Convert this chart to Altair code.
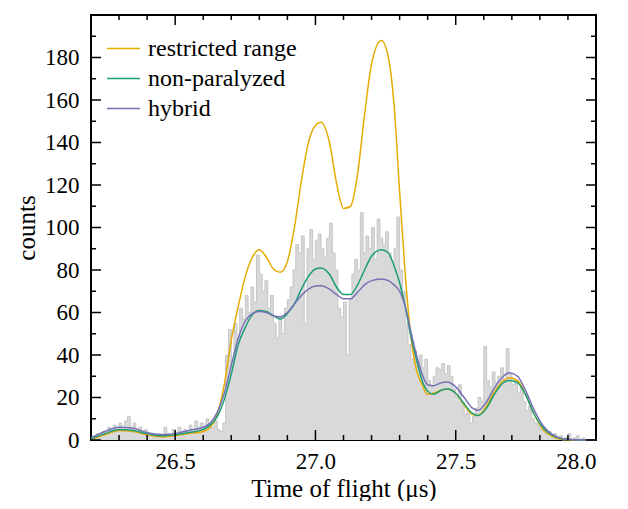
import altair as alt
import pandas as pd

# ---------------- data ----------------
bin_width = 0.01
bin_first = 26.20
counts = [
    1, 2, 3, 2, 4, 3, 6, 4, 7, 5,          # 26.20-26.29
    8, 4, 9, 11, 6, 8, 4, 6, 3, 5,         # 26.30-26.39
    2, 3, 1, 2, 3, 1, 6, 3, 2, 5,          # 26.40-26.49
    3, 6, 4, 5, 3, 7, 4, 9, 6, 8,          # 26.50-26.59
    5, 10, 7, 6, 9, 5, 4, 8, 40, 52,       # 26.60-26.69
    35, 55, 48, 62, 57, 68, 60, 72, 65, 87,  # 26.70-26.79
    78, 70, 75, 62, 68, 55, 48, 58, 50, 62,  # 26.80-26.89
    66, 72, 80, 92, 88, 96, 55, 90, 99, 85,  # 26.90-26.99
    94, 97, 90, 86, 95, 102, 88, 80, 62, 58,  # 27.00-27.09
    65, 40, 66, 78, 85, 80, 107, 88, 96, 90,  # 27.10-27.19
    100, 85, 104, 95, 92, 98, 88, 82, 90, 105,  # 27.20-27.29
    80, 70, 55, 45, 38, 42, 36, 40, 34, 38,  # 27.30-27.39
    28, 25, 30, 34, 33, 36, 31, 35, 30, 24,  # 27.40-27.49
    20, 26, 18, 12, 14, 8, 11, 15, 20, 18,   # 27.50-27.59
    44, 28, 25, 32, 27, 30, 34, 28, 43, 31,  # 27.60-27.69
    26, 28, 22, 25, 18, 14, 16, 10, 8, 7,    # 27.70-27.79
    5, 6, 3, 4, 2, 3, 1, 2, 0, 1,            # 27.80-27.89
    3, 0, 1, 2, 0, 1, 0, 0, 0, 0,            # 27.90-27.99
]

fit_x = [26.20, 26.25, 26.30, 26.35, 26.40, 26.45, 26.50, 26.55, 26.60, 26.625,
         26.65, 26.675, 26.70, 26.725, 26.75, 26.775, 26.80, 26.825, 26.85, 26.875,
         26.90, 26.925, 26.95, 26.975, 27.00, 27.02, 27.05, 27.075, 27.10, 27.125,
         27.15, 27.175, 27.20, 27.235, 27.26, 27.28, 27.30, 27.32, 27.34, 27.36,
         27.38, 27.40, 27.42, 27.45, 27.47, 27.50, 27.53, 27.56, 27.58, 27.61,
         27.64, 27.67, 27.69, 27.72, 27.75, 27.78, 27.81, 27.84, 27.87, 27.90,
         27.95, 28.00]

restricted = [0.3, 2.5, 4.5, 4.0, 2.5, 1.5, 2.0, 3.0, 4.0, 6.0,
              12, 26, 47, 63, 77, 86, 89.5, 86, 80.5, 79,
              84, 100, 122, 140, 148, 149.5, 140, 121, 109, 110,
              125, 153, 177, 188, 180, 158, 117, 78, 49, 33,
              26, 21.5, 22, 23.5, 24, 22, 16.5, 12, 11.5, 16,
              23, 28, 29.3, 28, 21, 12, 5, 2, 0.5, 0.1,
              0, 0]

non_paralyzed = [0.5, 3.0, 5.0, 4.5, 3.0, 2.0, 2.5, 3.5, 5.0, 7.0,
                 11, 19, 31, 45, 53, 59, 61, 60.5, 58.5, 57,
                 59.5, 64, 71, 77, 80.5, 81, 78, 72, 68.5, 68.5,
                 73, 80, 86.5, 89.5, 88, 82, 74, 63, 49, 38,
                 28, 23, 21.5, 23.5, 24, 22, 17, 12.5, 11.5, 15,
                 22, 27, 28, 27, 21, 12, 6, 2.5, 0.8, 0.2,
                 0, 0]

hybrid = [1.0, 4.0, 6.0, 5.5, 3.5, 2.5, 3.0, 4.5, 6.0, 8.0,
          13, 22, 35, 48, 56, 59.5, 60.5, 60, 58.5, 58,
          60, 64, 68, 71, 72.5, 72.6, 71, 68.5, 66.5, 66.5,
          69.5, 73, 75, 75.8, 75, 73, 70, 63, 51, 40,
          31, 26, 25.5, 27, 27.3, 25, 20, 15, 14, 18,
          25, 30, 31.6, 30, 23, 14, 7, 3, 1, 0.3,
          0, 0]

series_names = ["restricted range", "non-paralyzed", "hybrid"]
series_colors = ["#e6ab02", "#1b9e77", "#7570b3"]

x_major = [26.5, 27.0, 27.5, 28.0]
x_minor = [26.3, 26.4, 26.6, 26.7, 26.8, 26.9, 27.1, 27.2, 27.3, 27.4,
           27.6, 27.7, 27.8, 27.9]
y_major = [0, 20, 40, 60, 80, 100, 120, 140, 160, 180]
y_minor = [10, 30, 50, 70, 90, 110, 130, 150, 170, 190]

# ---------------- tables ----------------
hist = pd.DataFrame({
    "start": [round(bin_first + i * bin_width, 3) for i in range(len(counts))],
    "count": counts,
})
step = pd.concat([hist[["start", "count"]],
                  pd.DataFrame({"start": [28.0], "count": [counts[-1]]})])

fits = pd.concat([
    pd.DataFrame({"t": fit_x, "v": restricted, "model": series_names[0], "o": 0}),
    pd.DataFrame({"t": fit_x, "v": non_paralyzed, "model": series_names[1], "o": 1}),
    pd.DataFrame({"t": fit_x, "v": hybrid, "model": series_names[2], "o": 2}),
])

W, H = 505, 425
FONT = "Liberation Serif"

xs = alt.Scale(domain=[26.2, 28.0], nice=False, zero=False)
ys = alt.Scale(domain=[0, 200], nice=False)

x_axis = alt.Axis(values=x_major, format=".1f", title="Time of flight (μs)",
                  ticks=False, tickSize=0, domain=False, grid=False,
                  labelPadding=10, titlePadding=3)
y_axis = alt.Axis(values=y_major, title="counts",
                  ticks=False, tickSize=0, domain=False, grid=False,
                  labelPadding=12, titlePadding=5)

hist_area = alt.Chart(step).mark_area(interpolate="step-after", color="#d9d9d9",
                                      opacity=1).encode(
    x=alt.X("start:Q", scale=xs, axis=x_axis),
    y=alt.Y("count:Q", scale=ys, axis=y_axis),
)

outline = alt.Chart(step).mark_line(interpolate="step-after", color="#c2c2c2",
                                    strokeWidth=0.9).encode(
    x=alt.X("start:Q", scale=xs, axis=x_axis),
    y=alt.Y("count:Q", scale=ys, axis=y_axis),
)

lines = alt.Chart(fits).mark_line(interpolate="monotone", strokeWidth=1.5).encode(
    x=alt.X("t:Q", scale=xs, axis=x_axis),
    y=alt.Y("v:Q", scale=ys, axis=y_axis),
    color=alt.Color("model:N",
                    scale=alt.Scale(domain=series_names, range=series_colors),
                    sort=series_names,
                    legend=alt.Legend(title=None, orient="none", legendX=15, legendY=16,
                                      symbolType="stroke", symbolSize=1089,
                                      symbolStrokeWidth=1.5, rowPadding=0,
                                      labelOffset=7, padding=0)),
    order="o:Q",
    detail="model:N",
)

# inward, mirrored ticks
xmaj = pd.DataFrame({"t": x_major})
xmin = pd.DataFrame({"t": x_minor})
ymaj = pd.DataFrame({"v": y_major})
ymin = pd.DataFrame({"v": y_minor})

def xticks(df, length):
    b = alt.Chart(df).mark_rule(color="black", strokeWidth=1.5).encode(
        x=alt.X("t:Q", scale=xs, axis=x_axis), y=alt.value(H), y2=alt.value(H - length))
    t = alt.Chart(df).mark_rule(color="black", strokeWidth=1.5).encode(
        x=alt.X("t:Q", scale=xs, axis=x_axis), y=alt.value(0), y2=alt.value(length))
    return b + t

def yticks(df, length):
    l = alt.Chart(df).mark_rule(color="black", strokeWidth=1.5).encode(
        y=alt.Y("v:Q", scale=ys, axis=y_axis), x=alt.value(0), x2=alt.value(length))
    r = alt.Chart(df).mark_rule(color="black", strokeWidth=1.5).encode(
        y=alt.Y("v:Q", scale=ys, axis=y_axis), x=alt.value(W), x2=alt.value(W - length))
    return l + r

chart = alt.layer(
    hist_area, outline, lines,
    xticks(xmaj, 10), xticks(xmin, 5), yticks(ymaj, 10), yticks(ymin, 5),
).properties(
    width=W, height=H,
    padding={"left": 6, "top": 6, "right": 5, "bottom": 0},
).configure(
    background="white", font=FONT,
).configure_axis(
    labelFont=FONT, titleFont=FONT, labelFontSize=23, titleFontSize=25,
    titleFontWeight="normal", labelColor="black", titleColor="black",
).configure_legend(
    labelFont=FONT, labelFontSize=24, labelColor="black",
).configure_view(
    stroke="black", strokeWidth=2,
)

chart.save("out.html", embed_options={"renderer": "svg", "actions": False})
